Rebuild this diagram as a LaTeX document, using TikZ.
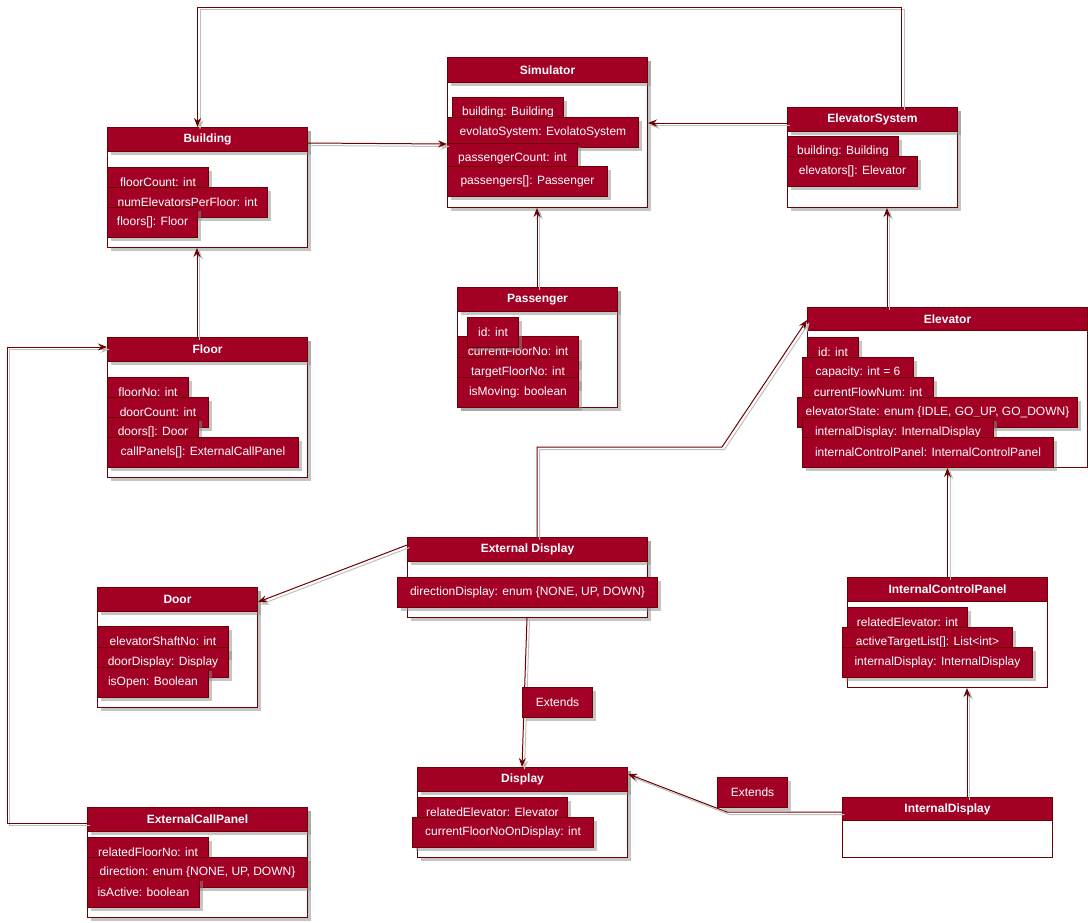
\documentclass[tikz,border=0pt]{standalone}
\usepackage{fontspec}
\setmainfont{Liberation Sans}
\usetikzlibrary{arrows.meta,shadows}
\definecolor{crim}{HTML}{A20025}
\definecolor{dred}{HTML}{6F0000}
\tikzset{
 sh/.style={drop shadow={shadow xshift=3pt,shadow yshift=-3pt,fill=black!45,opacity=.5}},
 nosh/.style={},
 frame/.style={draw=dred,fill=white,line width=1pt,inner sep=0pt,rectangle},
 header/.style={draw=dred,fill=crim,line width=1pt,inner sep=0pt,rectangle,text=white,font=\fontsize{12}{14}\selectfont\bfseries},
 attrbox/.style={draw=dred,fill=crim,line width=1pt,inner sep=0pt,rectangle,text=white,font=\fontsize{12}{14}\selectfont,minimum height=30pt,anchor=north west,sh},
 conn/.style={draw=dred,line width=1pt,-{Stealth[length=9pt,width=7pt,inset=3pt]},
   preaction={draw=black!25,line width=1pt,transform canvas={xshift=2.5pt,yshift=-2.5pt}}},
}
\newcommand\classbox[8]{%
 \node[frame,#8,anchor=north west,minimum width={#4pt-#2pt},minimum height={#5pt-#3pt}] (#1) at (#2,#3) {};
 \node[header,#8,anchor=north west,minimum width={#4pt-#2pt},minimum height={#6pt-#3pt}] (#1h) at (#2,#3) {#7};
}
\newcommand\attrib[5]{\node[attrbox,minimum width={#4pt-#2pt}] (#1) at (#2,#3) {#5};}
\begin{document}
\begin{tikzpicture}[x=1pt,y=-1pt]
\fill[white] (0,0) rectangle (1088,922);
\useasboundingbox (0,0) rectangle (1088,922);

% Building
\classbox{building}{107}{127}{307}{247}{151}{Building}{sh}
\attrib{b1}{107}{167}{208}{floorCount: int}
\attrib{b2}{107}{187}{267}{numElevatorsPerFloor: int}
\attrib{b3}{107}{207}{197}{floors[]: Floor}

% Simulator
\classbox{simulator}{447}{57}{647}{207}{82}{Simulator}{sh}
\attrib{s1}{452}{97}{563}{building: Building}
\attrib{s2}{447}{117}{638}{evolatoSystem: EvolatoSystem}
\attrib{s3}{447}{143}{577}{passengerCount: int}
\attrib{s4}{447}{166}{607}{passengers[]: Passenger}

% ElevatorSystem
\classbox{elevsys}{787}{107}{957}{207}{131}{ElevatorSystem}{sh}
\attrib{e1}{787}{136}{898}{building: Building}
\attrib{e2}{787}{156}{917}{elevators[]: Elevator}

% Elevator
\classbox{elevator}{807}{307}{1087}{467}{330}{Elevator}{nosh}
\attrib{v1}{807}{337}{858}{id: int}
\attrib{v2}{802}{357}{913}{capacity: int = 6}
\attrib{v3}{802}{377}{933}{currentFlowNum: int}
\attrib{v4}{797}{397}{1077}{elevatorState: enum \{IDLE, GO\_UP, GO\_DOWN\}}
\attrib{v5}{802}{417}{993}{internalDisplay: InternalDisplay}
\attrib{v6}{802}{437}{1053}{internalControlPanel: InternalControlPanel}

% Floor
\classbox{floor}{107}{337}{307}{477}{361}{Floor}{sh}
\attrib{f1}{107}{377}{188}{floorNo: int}
\attrib{f2}{107}{397}{208}{doorCount: int}
\attrib{f3}{107}{417}{198}{doors[]: Door}
\attrib{f4}{107}{437}{298}{callPanels[]: ExternalCallPanel}

% Passenger
\classbox{passenger}{457}{287}{617}{407}{311}{Passenger}{sh}
\attrib{p2}{457}{336}{578}{currentFloorNo: int}
\attrib{p3}{457}{357}{578}{targetFloorNo: int}
\attrib{p4}{457}{377}{578}{isMoving: boolean}
\attrib{p1}{467}{317}{518}{id: int}

% External Display
\classbox{extdisp}{407}{537}{647}{617}{561}{External Display}{sh}
\attrib{x1}{397}{577}{657}{directionDisplay: enum \{NONE, UP, DOWN\}}

% Door
\classbox{door}{97}{587}{257}{707}{611}{Door}{sh}
\attrib{d1}{97}{626}{228}{elevatorShaftNo: int}
\attrib{d2}{97}{647}{228}{doorDisplay: Display}
\attrib{d3}{97}{667}{208}{isOpen: Boolean}

% Display
\classbox{display}{417}{767}{627}{857}{791}{Display}{sh}
\attrib{y1}{417}{797}{567}{relatedElevator: Elevator}
\attrib{y2}{412}{817}{593}{currentFloorNoOnDisplay: int}

% InternalControlPanel
\classbox{icp}{847}{577}{1047}{687}{601}{InternalControlPanel}{nosh}
\attrib{i1}{847}{607}{967}{relatedElevator: int}
\attrib{i2}{842}{627}{1012}{activeTargetList[]: List<int>}
\attrib{i3}{842}{647}{1032}{internalDisplay: InternalDisplay}

% InternalDisplay
\classbox{intdisp}{842}{797}{1052}{857}{820}{InternalDisplay}{nosh}

% ExternalCallPanel
\classbox{ecp}{87}{807}{307}{917}{831}{ExternalCallPanel}{sh}
\attrib{c1}{87}{837}{208}{relatedFloorNo: int}
\attrib{c2}{87}{857}{307}{direction: enum \{NONE, UP, DOWN\}}
\attrib{c3}{87}{877}{199}{isActive: boolean}

% connectors
\draw[conn] ([xshift=29pt]elevsys.north) -- ++(0,-100) -| ([xshift=-10pt]building.north);
\draw[conn] (building.east |- 0,143) -- (simulator.west |- 0,144);
\draw[conn] (elevsys.west |- 0,123) -- (simulator.east |- 0,123);
\draw[conn] (floor.north -| 197,0) -- (building.south -| 197,0);
\draw[conn] (passenger.north -| 537,0) -- (simulator.south -| 537,0);
\draw[conn] (elevator.north -| 887,0) -- (elevsys.south -| 887,0);
\coordinate (k1) at (537,447);
\coordinate (k2) at (722,447);
\draw[conn] (extdisp.north -| 537,0) -- (k1) -- (k2) -- (elevator.west |- 0,320);
\draw[conn] (extdisp.west |- 0,545) -- (door.east |- 0,602);
\draw[conn] (extdisp.south -| 527,0) -- (display.north -| 522,0);
\draw[conn] (intdisp.north -| 967,0) -- (icp.south -| 967,0);
\draw[conn] (icp.north) -- (elevator.south -| icp.north);
\coordinate (k3) at (727,812);
\draw[conn] (intdisp.west |- 0,812) -- (k3) -- (display.east |- 0,774);
\coordinate (k4) at (7,823);
\coordinate (k5) at (7,347);
\draw[conn] (ecp.west |- 0,823) -- (k4) -- (k5) -- (floor.west |- 0,347);

% labels
\attrib{ext1}{522}{687}{592}{Extends}
\attrib{ext2}{717}{777}{787}{Extends}
\end{tikzpicture}
\end{document}
